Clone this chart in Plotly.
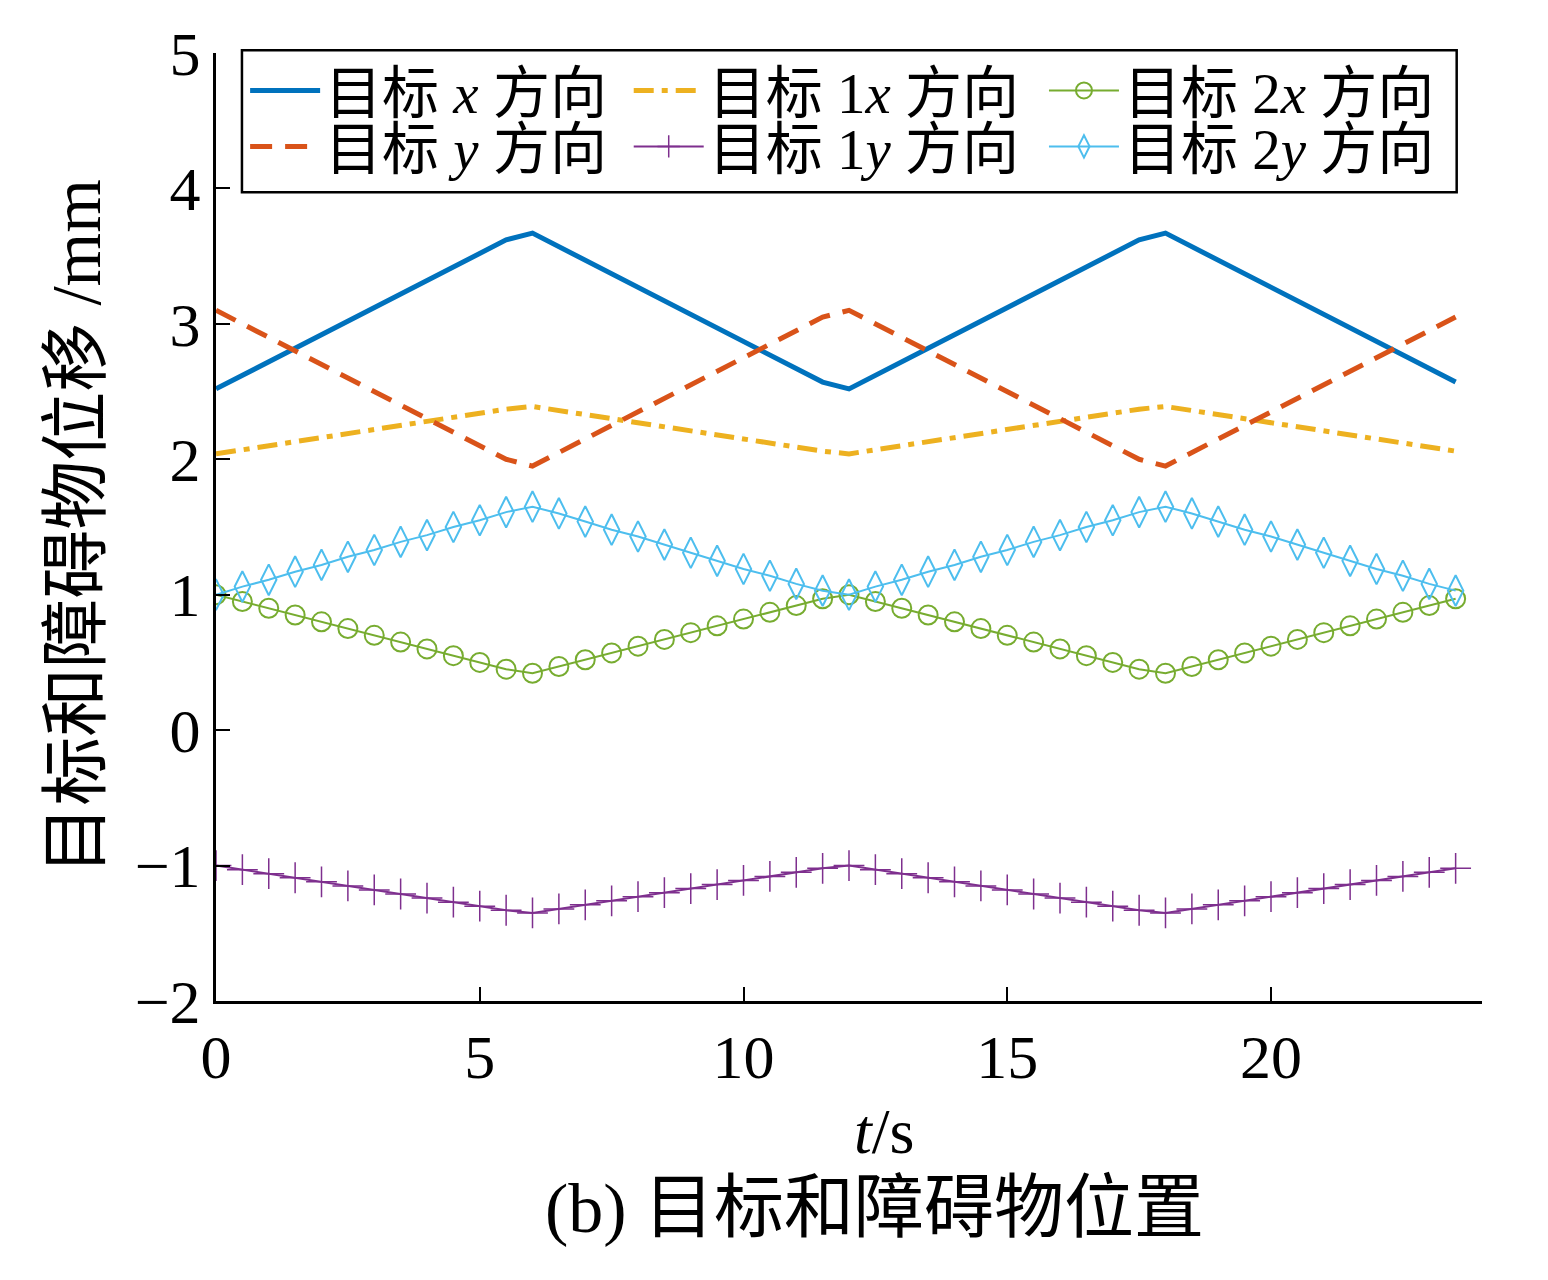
import plotly.graph_objects as go

# time samples (s)
t = [0.0, 0.5, 1.0, 1.5, 2.0, 2.5, 3.0, 3.5, 4.0, 4.5, 5.0, 5.5,
     6.0, 6.5, 7.0, 7.5, 8.0, 8.5, 9.0, 9.5, 10.0, 10.5, 11.0, 11.5,
     12.0, 12.5, 13.0, 13.5, 14.0, 14.5, 15.0, 15.5, 16.0, 16.5, 17.0, 17.5,
     18.0, 18.5, 19.0, 19.5, 20.0, 20.5, 21.0, 21.5, 22.0, 22.5, 23.0, 23.5]

target_x = [2.52, 2.62, 2.72, 2.82, 2.92, 3.02, 3.12, 3.22, 3.32, 3.42, 3.52, 3.62,
            3.67, 3.57, 3.47, 3.37, 3.27, 3.17, 3.07, 2.97, 2.87, 2.77, 2.67, 2.57,
            2.52, 2.62, 2.72, 2.82, 2.92, 3.02, 3.12, 3.22, 3.32, 3.42, 3.52, 3.62,
            3.67, 3.57, 3.47, 3.37, 3.27, 3.17, 3.07, 2.97, 2.87, 2.77, 2.67, 2.57]

target_y = [3.10, 3.00, 2.90, 2.80, 2.70, 2.60, 2.50, 2.40, 2.30, 2.20, 2.10, 2.00,
            1.95, 2.05, 2.15, 2.25, 2.35, 2.45, 2.55, 2.65, 2.75, 2.85, 2.95, 3.05,
            3.10, 3.00, 2.90, 2.80, 2.70, 2.60, 2.50, 2.40, 2.30, 2.20, 2.10, 2.00,
            1.95, 2.05, 2.15, 2.25, 2.35, 2.45, 2.55, 2.65, 2.75, 2.85, 2.95, 3.05]

obs1_x = [2.04, 2.07, 2.10, 2.13, 2.16, 2.19, 2.22, 2.25, 2.28, 2.31, 2.34, 2.37,
          2.39, 2.36, 2.33, 2.30, 2.27, 2.24, 2.21, 2.18, 2.15, 2.12, 2.09, 2.06,
          2.04, 2.07, 2.10, 2.13, 2.16, 2.19, 2.22, 2.25, 2.28, 2.31, 2.34, 2.37,
          2.39, 2.36, 2.33, 2.30, 2.27, 2.24, 2.21, 2.18, 2.15, 2.12, 2.09, 2.06]

obs1_y = [-1.00, -1.03, -1.06, -1.09, -1.12, -1.15, -1.18, -1.21, -1.24, -1.27, -1.30, -1.33,
          -1.35, -1.32, -1.29, -1.26, -1.23, -1.20, -1.17, -1.14, -1.11, -1.08, -1.05, -1.02,
          -1.00, -1.03, -1.06, -1.09, -1.12, -1.15, -1.18, -1.21, -1.24, -1.27, -1.30, -1.33,
          -1.35, -1.32, -1.29, -1.26, -1.23, -1.20, -1.17, -1.14, -1.11, -1.08, -1.05, -1.02]

obs2_x = [1.00, 0.95, 0.90, 0.85, 0.80, 0.75, 0.70, 0.65, 0.60, 0.55, 0.50, 0.45,
          0.42, 0.47, 0.52, 0.57, 0.62, 0.67, 0.72, 0.77, 0.82, 0.87, 0.92, 0.97,
          1.00, 0.95, 0.90, 0.85, 0.80, 0.75, 0.70, 0.65, 0.60, 0.55, 0.50, 0.45,
          0.42, 0.47, 0.52, 0.57, 0.62, 0.67, 0.72, 0.77, 0.82, 0.87, 0.92, 0.97]

obs2_y = [1.00, 1.06, 1.11, 1.17, 1.22, 1.28, 1.33, 1.39, 1.44, 1.50, 1.55, 1.61,
          1.65, 1.60, 1.54, 1.48, 1.43, 1.37, 1.31, 1.25, 1.19, 1.14, 1.08, 1.03,
          1.00, 1.06, 1.11, 1.17, 1.22, 1.28, 1.33, 1.39, 1.44, 1.50, 1.55, 1.61,
          1.65, 1.60, 1.54, 1.48, 1.43, 1.37, 1.31, 1.25, 1.19, 1.14, 1.08, 1.03]

x_ticks = [0, 5, 10, 15, 20]
y_ticks = [-2, -1, 0, 1, 2, 3, 4, 5]

FONT = "Liberation Serif, 'Noto Sans CJK SC', serif"

fig = go.Figure()
fig.add_trace(go.Scatter(x=t, y=target_x, mode="lines", name="目标 <i>x</i> 方向",
                         legend="legend", showlegend=True,
                         line=dict(color="#0072BD", width=5)))
fig.add_trace(go.Scatter(x=t, y=obs1_x, mode="lines", name="目标 1<i>x</i> 方向",
                         legend="legend2", showlegend=True,
                         line=dict(color="#EDB120", width=5, dash="20px,8px,6px,8px")))
fig.add_trace(go.Scatter(x=t, y=obs2_x, mode="lines+markers", name="目标 2<i>x</i> 方向",
                         legend="legend3", showlegend=True,
                         line=dict(color="#77AC30", width=2),
                         marker=dict(symbol="circle-open", size=19,
                                     line=dict(color="#77AC30", width=2))))
fig.add_trace(go.Scatter(x=t, y=target_y, mode="lines", name="目标 <i>y</i> 方向",
                         legend="legend4", showlegend=True,
                         line=dict(color="#D95319", width=5, dash="22px,13px")))
fig.add_trace(go.Scatter(x=t, y=obs1_y, mode="lines+markers", name="目标 1<i>y</i> 方向",
                         legend="legend5", showlegend=True,
                         line=dict(color="#7E2F8E", width=2),
                         marker=dict(symbol="cross-thin-open", size=22,
                                     line=dict(color="#7E2F8E", width=1.5))))
fig.add_trace(go.Scatter(x=t, y=obs2_y, mode="lines+markers", name="目标 2<i>y</i> 方向",
                         legend="legend6", showlegend=True,
                         line=dict(color="#4DBEEE", width=2),
                         marker=dict(symbol="diamond-tall-open", size=22,
                                     line=dict(color="#4DBEEE", width=2))))

axis_common = dict(showline=True, linecolor="black", linewidth=3, mirror=False,
                   showgrid=False, zeroline=False, ticks="inside", ticklen=14,
                   tickwidth=2, tickcolor="black",
                   tickfont=dict(family=FONT, size=62, color="black"))

fig.update_xaxes(range=[0, 24], tickvals=x_ticks, **axis_common)
fig.update_yaxes(range=[-2, 5], tickvals=y_ticks,
                 title=dict(text="目标和障碍物位移 /mm",
                            font=dict(family=FONT, size=69, color="black"), standoff=12),
                 **axis_common)

fig.add_annotation(text="<i>t</i>/s", xref="paper", yref="paper",
                   x=0.528, y=-0.138, xanchor="center", yanchor="middle", showarrow=False,
                   font=dict(family=FONT, size=64, color="black"))
fig.add_annotation(text="(b) 目标和障碍物位置", xref="paper", yref="paper",
                   x=0.52, y=-0.219, xanchor="center", yanchor="middle", showarrow=False,
                   font=dict(family=FONT, size=70, color="black"))

# legend frame
fig.add_shape(type="rect", xref="paper", yref="paper", x0=0.0205, x1=0.980,
              y0=0.853, y1=1.003, layer="below", fillcolor="white",
              line=dict(color="black", width=2.5))

leg_font = dict(family=FONT, size=57, color="black")
row_y = [0.960, 0.901]
col_x = [0.023, 0.326, 0.654]


def leg(x, y):
    return dict(x=x, y=y, xanchor="left", yanchor="middle", bgcolor="rgba(0,0,0,0)",
                borderwidth=0, font=leg_font, itemwidth=70, visible=True)


fig.update_layout(
    width=1548, height=1280,
    margin=dict(l=208, r=74, t=35, b=287),
    paper_bgcolor="white", plot_bgcolor="white",
    font=dict(family=FONT, color="black"),
    showlegend=True,
    legend=leg(col_x[0], row_y[0]),
    legend2=leg(col_x[1], row_y[0]),
    legend3=leg(col_x[2], row_y[0]),
    legend4=leg(col_x[0], row_y[1]),
    legend5=leg(col_x[1], row_y[1]),
    legend6=leg(col_x[2], row_y[1]),
)

fig.write_html("out.html")
